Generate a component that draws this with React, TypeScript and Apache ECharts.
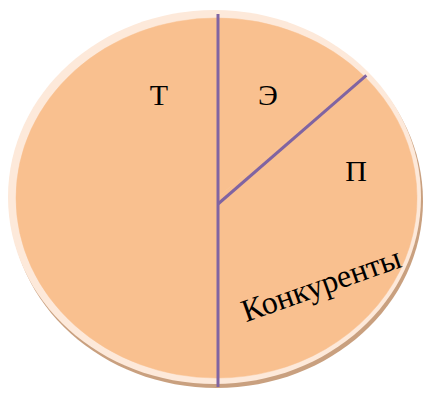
import React, { useEffect, useRef } from "react";
import * as echarts from "echarts";

// Slices, clockwise from the top
const categories = ["Э", "П", "Т"];
const shares = [13.3, 36.7, 50];
const extraLabel = "Конкуренты";

const FILL = "#F9C08F";
const RIM = "#FDE9DA";
const SHADOW = "#C9A07F";
const LINE = "#8064A2";

// geometry (styles/positions)
const fillEl = { cx: 216.5, cy: 198, rx: 200.5, ry: 180 };
const rimEl = { cx: 214.5, cy: 197, rx: 206.5, ry: 187 };
const lineEl = { cx: 218, cy: 200.5, rx: 200, ry: 186.5 };
const hub = { x: 218, y: 204 };
const labelPos: Record<string, [number, number]> = {
  "Э": [268, 94],
  "П": [356, 170],
  "Т": [159, 94],
};
const extraPos: [number, number, number] = [321, 284, 19.5];

export default function App() {
  const ref = useRef<HTMLDivElement>(null);
  useEffect(() => {
    if (!ref.current) return;
    const chart = echarts.init(ref.current, null, { renderer: "svg" });
    const total = shares.reduce((a, b) => a + b, 0);
    const cum: number[] = [0];
    shares.forEach((v, i) => cum.push(cum[i] + v / total));
    const font = "'Liberation Serif', 'Times New Roman', serif";

    chart.setOption({
      animation: false,
      graphic: [
        {
          type: "ellipse",
          z: -10,
          shape: { cx: rimEl.cx + 2, cy: rimEl.cy + 4, rx: rimEl.rx, ry: rimEl.ry },
          style: { fill: SHADOW },
          silent: true,
        },
        {
          type: "ellipse",
          z: -9,
          shape: { cx: rimEl.cx, cy: rimEl.cy, rx: rimEl.rx, ry: rimEl.ry },
          style: { fill: RIM },
          silent: true,
        },
        ...categories.map((c) => ({
          type: "text",
          z: 100,
          x: labelPos[c][0],
          y: labelPos[c][1],
          style: {
            text: c,
            fill: "#000",
            font: `30px ${font}`,
            align: "center",
            verticalAlign: "middle",
          },
        })),
        {
          type: "text",
          z: 100,
          x: extraPos[0],
          y: extraPos[1],
          rotation: (extraPos[2] * Math.PI) / 180,
          style: {
            text: extraLabel,
            fill: "#000",
            font: `32px ${font}`,
            align: "center",
            verticalAlign: "middle",
          },
        },
      ],
      series: [
        {
          type: "custom",
          coordinateSystem: "none",
          z: 2,
          data: shares.map((v, i) => [i, v]),
          renderItem: (params: any) => {
            const i = params.dataIndex;
            const a0 = -Math.PI / 2 + 2 * Math.PI * cum[i];
            const a1 = -Math.PI / 2 + 2 * Math.PI * cum[i + 1];
            return {
              type: "group",
              children: [
                {
                  type: "sector",
                  x: fillEl.cx,
                  y: fillEl.cy,
                  scaleY: fillEl.ry / fillEl.rx,
                  shape: { cx: 0, cy: 0, r0: 0, r: fillEl.rx, startAngle: a0, endAngle: a1, clockwise: true },
                  style: { fill: FILL, stroke: FILL, lineWidth: 0.5 },
                },
                {
                  type: "line",
                  z2: 10,
                  shape: {
                    x1: hub.x,
                    y1: hub.y,
                    x2: lineEl.cx + lineEl.rx * Math.cos(a0),
                    y2: lineEl.cy + lineEl.ry * Math.sin(a0),
                  },
                  style: { stroke: LINE, lineWidth: 3 },
                },
              ],
            };
          },
        },
      ],
    });
    return () => chart.dispose();
  }, []);
  return (
    <div
      ref={ref}
      style={{ position: "absolute", left: 0, top: 0, width: 425, height: 394, background: "#fff" }}
    />
  );
}
